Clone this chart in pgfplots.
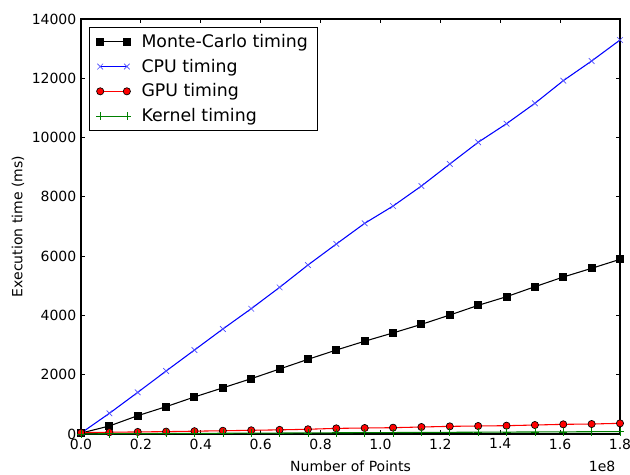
\documentclass[border=0pt]{standalone}
\usepackage{pgfplots}
\pgfplotsset{compat=1.18}
\usepackage{pgfplotstable}
\usepackage{fontspec}
\setmainfont{DejaVu Sans}
\definecolor{mplgreen}{rgb}{0,0.5,0}
\pgfplotstableread{
x        mc    cpu    gpu  kern
0        30    30     45   5
0.09474  270   697    60   9
0.18947  618   1405   70   13
0.28421  922   2125   80   17
0.37895  1250  2833   95   21
0.47368  1557  3542   110  25
0.56842  1866  4227   125  29
0.66316  2192  4947   140  33
0.75789  2519  5700   160  37
0.85263  2833  6409   190  41
0.94737  3130  7107   202  45
1.04211  3410  7690   213  49
1.13684  3699  8366   236  53
1.23158  4013  9108   258  57
1.32632  4340  9841   270  61
1.42105  4632  10468  281  65
1.51579  4969  11156  303  69
1.61053  5296  11919  326  73
1.70526  5589  12583  337  77
1.8      5892  13291  360  81
}\data
\begin{document}
\begin{tikzpicture}
\useasboundingbox (-60.75pt,-30pt) rectangle (411.75pt,325.5pt);
\begin{axis}[
  name=ax,
  at={(0,0)}, anchor=south west,
  scale only axis, width=404.25pt, height=311.25pt,
  xmin=0, xmax=1.8, ymin=0, ymax=14000,
  xtick={0,0.2,0.4,0.6,0.8,1.0,1.2,1.4,1.6,1.8},
  ytick={0,2000,4000,6000,8000,10000,12000,14000},
  scaled x ticks=false, scaled y ticks=false,
  xticklabel style={/pgf/number format/.cd, fixed, fixed zerofill, precision=1, assume math mode=true},
  yticklabel style={/pgf/number format/.cd, fixed, 1000 sep={}, assume math mode=true},
  tick align=inside, major tick length=3.3pt,
  tick style={black, line width=0.6pt},
  axis line style={line width=0.8pt},
  font=\fontsize{10.5}{12.5}\selectfont,
  xlabel={Number of Points},
  ylabel={Execution time (ms)},
  xlabel style={at={(axis description cs:0.5,-0.077)}, anchor=center},
  ylabel style={at={(axis description cs:-0.117,0.5)}, anchor=center},
  legend style={at={(0,1)}, anchor=north west, xshift=6pt, yshift=-6pt,
    draw=black, line width=0.8pt, font=\fontsize{13}{15}\selectfont,
    row sep=3.2pt, inner xsep=5pt, inner ysep=3pt, cells={anchor=west},
    /tikz/every odd column/.append style={column sep=6pt}},
  legend image code/.code={\draw[#1] plot coordinates {(0pt,0pt) (20pt,0pt)};},
]
\addplot[black, line width=0.8pt, mark=square*, mark size=2.6pt] table[x=x, y=mc] {\data};
\addlegendentry{Monte-Carlo timing}
\addplot[blue, line width=0.8pt, mark=x, mark size=3pt, mark options={line width=0.5pt, draw=blue!70}] table[x=x, y=cpu] {\data};
\addlegendentry{CPU timing}
\addplot[red, line width=0.8pt, mark=*, mark size=2.7pt, mark options={fill=red, draw=black, line width=0.5pt}] table[x=x, y=gpu] {\data};
\addlegendentry{GPU timing}
\addplot[mplgreen, line width=0.8pt, mark=+, mark size=3pt, mark options={line width=0.5pt}] table[x=x, y=kern] {\data};
\addlegendentry{Kernel timing}
\end{axis}
\node[anchor=east, font=\fontsize{10.5}{12.5}\selectfont] at ([yshift=-24pt]ax.south east) {1e8};
\end{tikzpicture}
\end{document}
